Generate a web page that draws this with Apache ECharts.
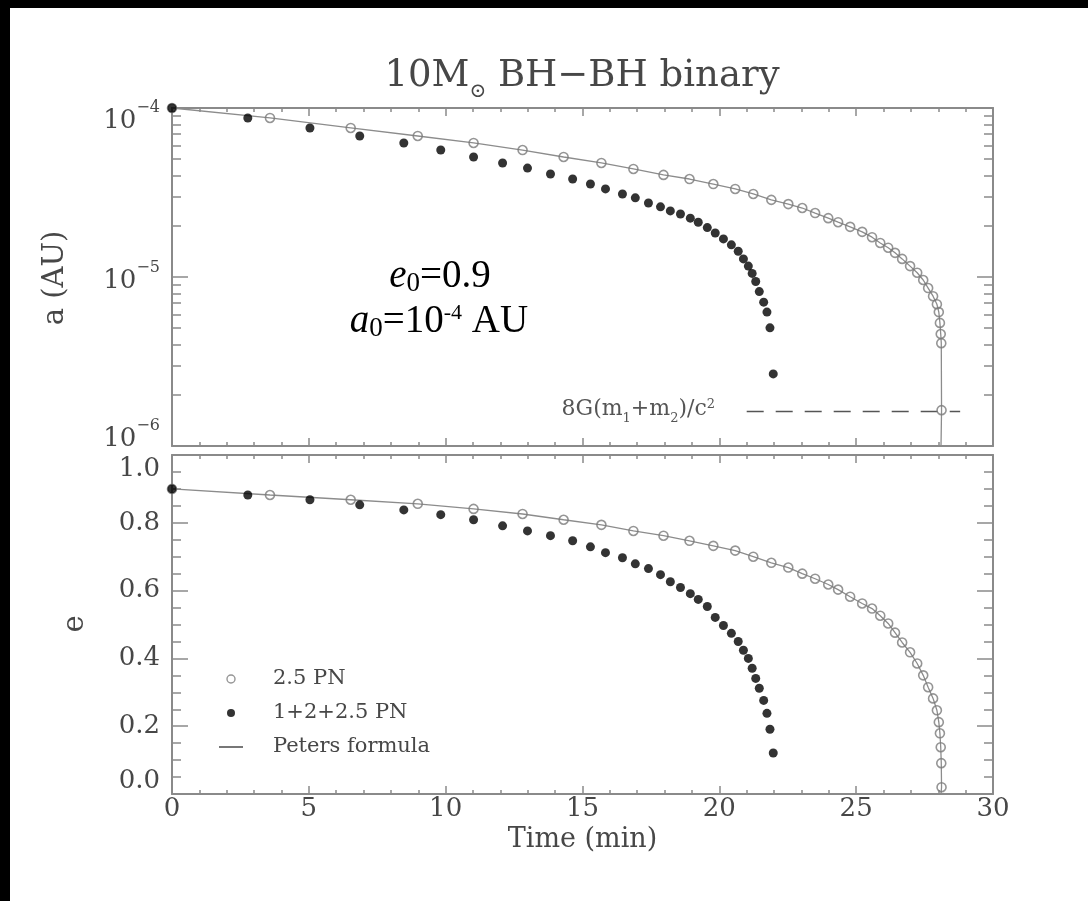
<!DOCTYPE html>
<html><head><meta charset="utf-8">
<script src="https://cdn.jsdelivr.net/npm/echarts@6/dist/echarts.min.js"></script>
<style>html,body{margin:0;padding:0;background:#000;} #c{width:1088px;height:901px;}</style>
</head><body><div id="c"></div>
<script>
// ---- data ----
// 2.5 PN (open circles): time (min), semi-major axis a (AU), eccentricity e
const tOpen = [0, 3.58, 6.53, 8.98, 11.02, 12.81, 14.31, 15.69, 16.86, 17.96, 18.91, 19.78, 20.58, 21.24, 21.90, 22.52, 23.03, 23.50, 23.98, 24.34, 24.78, 25.22, 25.58, 25.88, 26.17, 26.42, 26.68, 26.97, 27.23, 27.45, 27.63, 27.81, 27.95, 28.02, 28.06, 28.09, 28.11, 28.12];
const aOpen = [1.0e-4, 8.73e-5, 7.62e-5, 6.83e-5, 6.21e-5, 5.64e-5, 5.13e-5, 4.73e-5, 4.36e-5, 4.02e-5, 3.80e-5, 3.55e-5, 3.32e-5, 3.10e-5, 2.86e-5, 2.70e-5, 2.56e-5, 2.39e-5, 2.23e-5, 2.11e-5, 1.98e-5, 1.85e-5, 1.72e-5, 1.59e-5, 1.49e-5, 1.39e-5, 1.28e-5, 1.16e-5, 1.06e-5, 9.6e-6, 8.6e-6, 7.7e-6, 6.9e-6, 6.2e-6, 5.35e-6, 4.6e-6, 4.06e-6, 1.63e-6];
const eOpen = [0.90, 0.882, 0.868, 0.856, 0.841, 0.826, 0.809, 0.794, 0.776, 0.762, 0.747, 0.732, 0.718, 0.700, 0.682, 0.668, 0.650, 0.635, 0.618, 0.603, 0.582, 0.562, 0.547, 0.526, 0.503, 0.476, 0.447, 0.418, 0.385, 0.350, 0.315, 0.282, 0.247, 0.212, 0.179, 0.138, 0.091, 0.020];
// 1+2+2.5 PN (filled circles)
const tFilled = [0, 2.77, 5.04, 6.86, 8.47, 9.82, 11.02, 12.08, 12.99, 13.83, 14.64, 15.29, 15.84, 16.46, 16.93, 17.41, 17.85, 18.21, 18.58, 18.94, 19.23, 19.56, 19.85, 20.15, 20.44, 20.69, 20.88, 21.06, 21.20, 21.33, 21.46, 21.62, 21.74, 21.85, 21.97];
const aFilled = [1.0e-4, 8.73e-5, 7.62e-5, 6.83e-5, 6.21e-5, 5.64e-5, 5.13e-5, 4.73e-5, 4.41e-5, 4.07e-5, 3.80e-5, 3.55e-5, 3.32e-5, 3.10e-5, 2.94e-5, 2.74e-5, 2.60e-5, 2.46e-5, 2.36e-5, 2.23e-5, 2.11e-5, 1.96e-5, 1.82e-5, 1.68e-5, 1.55e-5, 1.42e-5, 1.28e-5, 1.16e-5, 1.05e-5, 9.4e-6, 8.2e-6, 7.1e-6, 6.2e-6, 5.0e-6, 2.67e-6];
const eFilled = [0.90, 0.882, 0.868, 0.853, 0.838, 0.824, 0.809, 0.791, 0.776, 0.762, 0.747, 0.729, 0.712, 0.697, 0.679, 0.665, 0.647, 0.626, 0.609, 0.591, 0.574, 0.553, 0.521, 0.497, 0.474, 0.450, 0.424, 0.400, 0.371, 0.341, 0.312, 0.276, 0.238, 0.191, 0.121];
// Peters formula: ends at coalescence time
const petersEndT = 28.10;
const petersEndA = 1.0e-6;
const petersEndE = 0.0;
// 8G(m1+m2)/c^2 dashed level
const lsoT = [21.0, 28.8];
const lsoA = 1.6e-6;
// axis ticks
const xTicks = [0, 5, 10, 15, 20, 25, 30];
const aMajor = [1e-6, 1e-5, 1e-4];
const aMinor = [2e-6, 3e-6, 4e-6, 5e-6, 6e-6, 7e-6, 8e-6, 9e-6, 2e-5, 3e-5, 4e-5, 5e-5, 6e-5, 7e-5, 8e-5, 9e-5];
const eTicks = [0, 0.2, 0.4, 0.6, 0.8, 1.0];

// ---- chart ----
const FONT = 'DejaVu Serif';
const TXT = '#474747';
const AXC = '#8a8a8a';
const OPEN_C = '#7a7a7a';

const zipPts = (xs, ys) => xs.map((x, i) => [x, ys[i]]);
const petersTop = zipPts(tOpen, aOpen).concat([[petersEndT, petersEndA]]);
const petersBot = zipPts(tOpen, eOpen).concat([[petersEndT, petersEndE]]);

const axLine = {show: true, onZero: false, lineStyle: {color: AXC, width: 2}};
const noLine = {show: false, onZero: false};
function xAx(grid, pos, labels) {
  return {
    type: 'value', gridIndex: grid, position: pos, min: xTicks[0], max: xTicks[xTicks.length - 1], interval: 5,
    axisLine: axLine,
    axisTick: {show: true, inside: true, length: 8, lineStyle: {color: AXC, width: 1.5}},
    minorTick: {show: true, splitNumber: 5, length: 4, lineStyle: {color: AXC, width: 1.5}},
    splitLine: {show: false}, minorSplitLine: {show: false},
    axisLabel: {show: labels, color: TXT, fontFamily: FONT, fontSize: 26, margin: 2},
    name: labels ? 'Time (min)' : '', nameLocation: 'middle', nameGap: 32,
    nameTextStyle: {color: TXT, fontFamily: FONT, fontSize: 27}
  };
}
function logAx(pos, ticks, len, labels, showLine) {
  return {
    type: 'log', logBase: 10, gridIndex: 0, position: pos, min: 1e-6, max: 1e-4,
    axisLine: showLine ? axLine : noLine,
    axisTick: {show: true, inside: true, length: len, customValues: ticks, lineStyle: {color: AXC, width: 1.5}},
    minorTick: {show: false}, splitLine: {show: false},
    axisLabel: labels ? {
      show: true, customValues: aMajor, margin: 12, color: TXT, fontFamily: FONT,
      formatter: function (v) {
        const p = Math.round(Math.log10(v));
        const core = '{b|10}{s|\u2212' + (-p) + '}';
        if (p === -4) return '{e1| }\n' + core;
        if (p === -6) return core + '\n{e2| }';
        return core;
      },
      rich: {
        b: {fontSize: 26, fontFamily: FONT, color: TXT, lineHeight: 35, verticalAlign: 'bottom'},
        s: {fontSize: 16, fontFamily: FONT, color: TXT, lineHeight: 16, verticalAlign: 'top'},
        e1: {fontSize: 8, lineHeight: 18},
        e2: {fontSize: 8, lineHeight: 22}
      }
    } : {show: false}
  };
}
function eAx(pos, labels) {
  return {
    type: 'value', gridIndex: 1, position: pos, min: 0, max: 1, interval: 0.2,
    axisLine: axLine,
    axisTick: {show: true, inside: true, length: 16, lineStyle: {color: AXC, width: 1.5}},
    minorTick: {show: true, splitNumber: 4, length: 9, lineStyle: {color: AXC, width: 1.5}},
    splitLine: {show: false}, minorSplitLine: {show: false},
    axisLabel: labels ? {
      show: true, margin: 12, color: TXT, fontFamily: FONT, fontSize: 26,
      formatter: function (v) {
        const s = v.toFixed(1);
        if (v >= 0.999) return '{t|' + s + '}';
        if (v <= 0.001) return '{b|' + s + '}';
        return '{m|' + s + '}';
      },
      rich: {
        m: {fontSize: 26, fontFamily: FONT, color: TXT},
        t: {fontSize: 26, fontFamily: FONT, color: TXT, padding: [28, 0, 0, 0]},
        b: {fontSize: 26, fontFamily: FONT, color: TXT, padding: [0, 0, 26, 0]}
      }
    } : {show: false}
  };
}

const openStyle = {color: 'rgba(0,0,0,0)', borderColor: OPEN_C, borderWidth: 1.6};
const lineStyle = {color: '#8c8c8c', width: 1.3};

const option = {
  backgroundColor: '#000',
  animation: false,
  grid: [
    {left: 172, top: 108, width: 821, height: 338},
    {left: 172, top: 455, width: 821, height: 339}
  ],
  xAxis: [xAx(0, 'bottom', false), xAx(0, 'top', false), xAx(1, 'bottom', true), xAx(1, 'top', false)],
  yAxis: [
    logAx('left', aMajor, 16, true, true),
    logAx('left', aMinor, 9, false, false),
    logAx('right', aMajor, 16, false, true),
    logAx('right', aMinor, 9, false, false),
    eAx('left', true),
    eAx('right', false)
  ],
  legend: {
    orient: 'vertical', left: 214, top: 663, itemGap: 12, itemWidth: 24, itemHeight: 8,
    textStyle: {color: TXT, fontFamily: FONT, fontSize: 21, lineHeight: 22, padding: [0, 0, 0, 25]},
    data: [
      {name: '2.5 PN', icon: 'circle', itemStyle: {color: '#fff', borderColor: OPEN_C, borderWidth: 1.4}},
      {name: '1+2+2.5 PN', icon: 'circle', itemStyle: {color: '#000'}},
      {name: 'Peters formula', icon: 'path://M0,0 L24,0 L24,1.6 L0,1.6 Z', itemStyle: {color: '#555', borderWidth: 0}}
    ],
    selectedMode: false
  },
  graphic: [
    {type: 'rect', z: -10, shape: {x: 10, y: 8, width: 1078, height: 893}, style: {fill: '#fff'}, silent: true},
    {type: 'text', x: 582, y: 80, style: {
      text: '{b|10M}{s|\u2299}{b| BH\u2212BH binary}', align: 'center', verticalAlign: 'middle',
      rich: {
        b: {fontSize: 37, fontFamily: FONT, fill: TXT, lineHeight: 44, verticalAlign: 'top'},
        s: {fontSize: 20, fontFamily: FONT, fill: TXT, lineHeight: 20, verticalAlign: 'bottom'}
      }}},
    {type: 'text', x: 55, y: 278, rotation: Math.PI / 2, style: {
      text: 'a (AU)', align: 'center', verticalAlign: 'middle', fontSize: 29, fontFamily: FONT, fill: TXT}},
    {type: 'text', x: 75, y: 624, rotation: Math.PI / 2, style: {
      text: 'e', align: 'center', verticalAlign: 'middle', fontSize: 29, fontFamily: FONT, fill: TXT}},
    {type: 'text', x: 440, y: 277, style: {
      text: '{i|e}{sub|0}{n|=0.9}', align: 'center', verticalAlign: 'middle',
      rich: {
        i: {fontSize: 39, fontFamily: 'Liberation Serif', fontStyle: 'italic', fill: '#000', lineHeight: 40, verticalAlign: 'top'},
        sub: {fontSize: 27, fontFamily: 'Liberation Serif', fill: '#000', lineHeight: 27, verticalAlign: 'bottom'},
        n: {fontSize: 39, fontFamily: 'Liberation Serif', fill: '#000', lineHeight: 40, verticalAlign: 'top'}
      }}},
    {type: 'text', x: 439, y: 322, style: {
      text: '{i|a}{sub|0}{n|=10}{sup|-4}{n| AU}', align: 'center', verticalAlign: 'middle',
      rich: {
        i: {fontSize: 39, fontFamily: 'Liberation Serif', fontStyle: 'italic', fill: '#000', lineHeight: 40, verticalAlign: 'top'},
        sub: {fontSize: 27, fontFamily: 'Liberation Serif', fill: '#000', lineHeight: 27, verticalAlign: 'bottom'},
        n: {fontSize: 39, fontFamily: 'Liberation Serif', fill: '#000', lineHeight: 40, verticalAlign: 'top'},
        sup: {fontSize: 22, fontFamily: 'Liberation Serif', fill: '#000', lineHeight: 22, verticalAlign: 'top'}
      }}},
    {type: 'text', x: 715, y: 412, style: {
      text: '{b|8G(m}{s|1}{b|+m}{s|2}{b|)/c}{p|2}', align: 'right', verticalAlign: 'middle',
      rich: {
        b: {fontSize: 22, fontFamily: FONT, fill: '#555', lineHeight: 27, verticalAlign: 'top'},
        s: {fontSize: 13, fontFamily: FONT, fill: '#555', lineHeight: 13, verticalAlign: 'bottom'},
        p: {fontSize: 13, fontFamily: FONT, fill: '#555', lineHeight: 13, verticalAlign: 'top'}
      }}}
  ],
  series: [
    {name: 'Peters formula', type: 'line', xAxisIndex: 0, yAxisIndex: 0, data: petersTop, symbol: 'none', lineStyle: lineStyle, itemStyle: {color: '#8c8c8c'}, z: 2},
    {name: '2.5 PN', type: 'scatter', xAxisIndex: 0, yAxisIndex: 0, data: zipPts(tOpen, aOpen), symbol: 'circle', symbolSize: 9, itemStyle: openStyle, z: 3},
    {name: '1+2+2.5 PN', type: 'scatter', xAxisIndex: 0, yAxisIndex: 0, data: zipPts(tFilled, aFilled), symbol: 'circle', symbolSize: 9, itemStyle: {color: '#000'}, z: 4},
    {name: 'lso', type: 'line', xAxisIndex: 0, yAxisIndex: 0, data: lsoT.map(t => [t, lsoA]), symbol: 'none', lineStyle: {color: '#555', width: 1.5, type: [17, 12]}, z: 1, silent: true},
    {name: 'Peters formula', type: 'line', xAxisIndex: 2, yAxisIndex: 4, data: petersBot, symbol: 'none', lineStyle: lineStyle, itemStyle: {color: '#8c8c8c'}, z: 2},
    {name: '2.5 PN', type: 'scatter', xAxisIndex: 2, yAxisIndex: 4, data: zipPts(tOpen, eOpen), symbol: 'circle', symbolSize: 9, itemStyle: openStyle, z: 3},
    {name: '1+2+2.5 PN', type: 'scatter', xAxisIndex: 2, yAxisIndex: 4, data: zipPts(tFilled, eFilled), symbol: 'circle', symbolSize: 9, itemStyle: {color: '#000'}, z: 4}
  ]
};
const chart = echarts.init(document.getElementById('c'));
chart.setOption(option);
</script></body></html>
